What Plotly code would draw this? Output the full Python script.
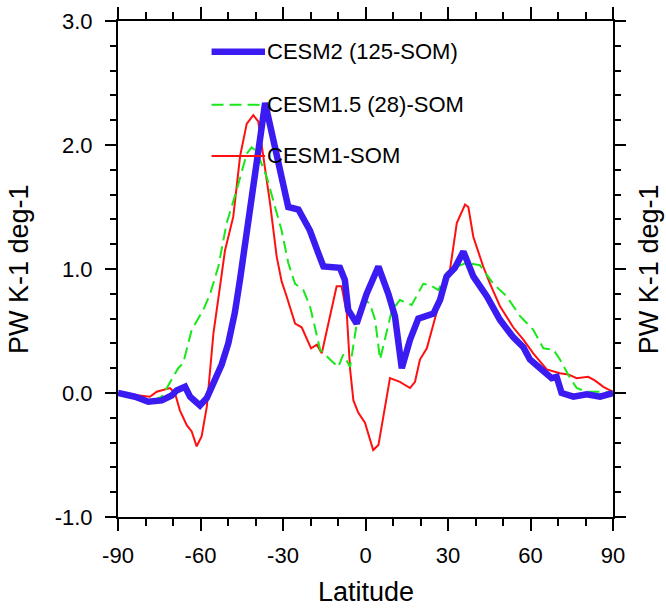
import plotly.graph_objects as go

# ---------------- data ----------------
lat_cesm2 = [-90, -83.8, -79.0, -74.1, -70.5, -68.7, -65.6, -63.8, -60.2, -57.7, -55.3, -52.3,
             -49.9, -47.5, -45.6, -43.8, -40.8, -38.4, -36.5, -32.3, -28.1, -24.4, -20.2,
             -17.2, -15.3, -9.3, -7.5, -6.3, -3.2, 0.4, 4.7, 8.3, 10.7, 13.2, 16.2, 19.2,
             24.7, 27.1, 29.5, 32.5, 35.6, 39.2, 44.1, 48.9, 53.7, 57.4, 59.8, 63.5, 67.7,
             69.5, 71.3, 75.6, 80.4, 85.3, 90]
val_cesm2 = [0.0, -0.03, -0.07, -0.06, -0.02, 0.02, 0.05, -0.03, -0.10, -0.04, 0.08, 0.23,
             0.40, 0.65, 0.92, 1.18, 1.64, 2.04, 2.34, 1.91, 1.50, 1.48, 1.31,
             1.13, 1.02, 1.01, 0.91, 0.67, 0.56, 0.80, 1.02, 0.80, 0.62, 0.20, 0.43, 0.60,
             0.64, 0.75, 0.94, 1.01, 1.14, 0.94, 0.78, 0.59, 0.45, 0.37, 0.27, 0.20, 0.12,
             0.13, 0.0, -0.03, -0.01, -0.03, 0.0]

lat_cesm15 = [-90, -78.4, -74.1, -71.1, -68.1, -66.3, -63.2, -59.0, -56.5, -53.5, -50.5, -46.8,
              -43.2, -41.4, -39.6, -35.9, -32.9, -30.5, -28.1, -25.6, -22.6, -20.2, -18.4,
              -16.5, -12.9, -9.9, -8.1, -5.6, -3.2, -0.8, 1.6, 3.5, 5.3, 7.1, 9.5, 12.5,
              16.8, 21.0, 23.5, 26.5, 29.5, 33.2, 36.8, 41.6, 46.5, 51.3, 56.2, 61.0, 64.7,
              68.3, 70.7, 74.4, 76.8, 80.4, 86.5, 90]
val_cesm15 = [0.0, -0.07, -0.03, 0.08, 0.20, 0.24, 0.51, 0.67, 0.80, 1.02, 1.37, 1.64,
              1.93, 1.98, 1.95, 1.74, 1.50, 1.31, 1.05, 0.88, 0.83, 0.70, 0.53,
              0.35, 0.27, 0.21, 0.31, 0.21, 0.56, 0.76, 0.72, 0.59, 0.27, 0.43, 0.66, 0.75,
              0.71, 0.88, 0.87, 0.83, 0.97, 1.02, 1.05, 1.03, 0.88, 0.78, 0.62, 0.51, 0.36,
              0.35, 0.27, 0.12, 0.04, 0.01, 0.01, 0.0]

lat_cesm1 = [-90, -78.4, -75.9, -71.1, -69.3, -67.5, -65.0, -63.2, -61.4, -59.6, -57.7, -55.3,
             -52.9, -51.1, -48.1, -45.6, -43.2, -40.8, -39.0, -37.2, -34.7, -32.3, -30.5,
             -28.7, -25.6, -23.2, -19.8, -17.7, -15.9, -10.5, -8.7, -6.8, -5.6, -4.4, -2.6,
             -0.2, 1.6, 2.8, 4.7, 8.9, 12.5, 16.2, 18.0, 19.8, 22.3, 24.7, 27.1, 30.7, 33.2,
             36.2, 37.4, 39.2, 42.8, 45.3, 48.9, 53.7, 57.4, 61.0, 65.9, 70.7, 73.7, 76.8,
             81.0, 83.5, 86.5, 90]
val_cesm1 = [0.0, -0.03, 0.01, 0.04, 0.0, -0.14, -0.26, -0.31, -0.43, -0.35, -0.11, 0.48,
             0.86, 1.15, 1.42, 1.91, 2.17, 2.24, 2.19, 1.91, 1.53, 1.10, 0.90,
             0.78, 0.56, 0.53, 0.36, 0.39, 0.32, 0.86, 0.86, 0.64, 0.19, -0.06, -0.16,
             -0.24, -0.38, -0.46, -0.42, 0.12, 0.09, 0.04, 0.09, 0.27, 0.36, 0.56, 0.75, 0.99, 1.37,
             1.52, 1.50, 1.26, 1.02, 0.88, 0.70, 0.53, 0.43, 0.32, 0.19, 0.16, 0.15, 0.12,
             0.13, 0.10, 0.05, 0.01]

series_names = ["CESM2 (125-SOM)", "CESM1.5 (28)-SOM", "CESM1-SOM"]
x_ticks = [-90, -60, -30, 0, 30, 60, 90]
y_ticks = [-1.0, 0.0, 1.0, 2.0, 3.0]
x_title = "Latitude"
y_title = "PW K-1 deg-1"

# ---------------- styles ----------------
C_BLUE = "#3a1cf2"
C_GREEN = "#18e818"
C_RED = "#ff1010"
GREEN_DASH = "12px,6px"
FONT = "Liberation Sans, Arial, Helvetica, sans-serif"
TICK_SIZE = 22
TITLE_SIZE = 27
LEG_SIZE = 22

fig = go.Figure()
fig.add_trace(go.Scatter(x=lat_cesm1, y=val_cesm1, mode="lines", name=series_names[2],
                         line=dict(color=C_RED, width=2)))
fig.add_trace(go.Scatter(x=lat_cesm15, y=val_cesm15, mode="lines", name=series_names[1],
                         line=dict(color=C_GREEN, width=2, dash=GREEN_DASH)))
fig.add_trace(go.Scatter(x=lat_cesm2, y=val_cesm2, mode="lines", name=series_names[0],
                         line=dict(color=C_BLUE, width=6.5)))

# manual NCL-style legend inside the plot
leg_x0, leg_x1, leg_tx = 0.189, 0.297, 0.296
leg_y = [0.938, 0.831, 0.728]
leg_styles = [dict(color=C_BLUE, width=6.5), dict(color=C_GREEN, width=2, dash=GREEN_DASH),
              dict(color=C_RED, width=2)]
for name, yy, st in zip(series_names, leg_y, leg_styles):
    fig.add_shape(type="line", xref="paper", yref="paper", x0=leg_x0, x1=leg_x1, y0=yy, y1=yy,
                  line=st)
    fig.add_annotation(xref="paper", yref="paper", x=leg_tx, y=yy, text=name, showarrow=False,
                       xanchor="left", yanchor="middle",
                       font=dict(size=LEG_SIZE, color="black", family=FONT))

# axis titles (left, right, bottom)
fig.add_annotation(xref="paper", yref="paper", x=0.5, y=-0.152, text=x_title, showarrow=False,
                   xanchor="center", yanchor="middle",
                   font=dict(size=TITLE_SIZE, color="black", family=FONT))
fig.add_annotation(xref="paper", yref="paper", x=-0.200, y=0.5, text=y_title, showarrow=False,
                   textangle=-90, xanchor="center", yanchor="middle",
                   font=dict(size=TITLE_SIZE, color="black", family=FONT))
fig.add_annotation(xref="paper", yref="paper", x=1.073, y=0.5, text=y_title, showarrow=False,
                   textangle=-90, xanchor="center", yanchor="middle",
                   font=dict(size=TITLE_SIZE, color="black", family=FONT))

axis_common = dict(showgrid=False, zeroline=False, showline=True, linecolor="black",
                   linewidth=2, mirror="ticks", ticks="outside", tickcolor="black",
                   tickwidth=2, automargin=False,
                   tickfont=dict(size=TICK_SIZE, color="black", family=FONT))

fig.update_layout(
    width=666, height=609, autosize=False,
    margin=dict(l=118, r=53, t=21, b=92),
    plot_bgcolor="white", paper_bgcolor="white",
    showlegend=False,
    font=dict(family=FONT, color="black"),
    xaxis=dict(range=[-90, 90], tickvals=x_ticks, ticktext=[str(v) for v in x_ticks],
               ticklen=12, ticklabelstandoff=6,
               minor=dict(dtick=10, tick0=-90, ticklen=7, ticks="outside", tickcolor="black",
                          tickwidth=2),
               **axis_common),
    yaxis=dict(range=[-1, 3], tickvals=y_ticks, ticktext=["%.1f" % v for v in y_ticks],
               ticklen=11, ticklabelstandoff=8,
               minor=dict(dtick=0.2, tick0=-1, ticklen=6, ticks="outside", tickcolor="black",
                          tickwidth=2),
               **axis_common),
)

fig.write_html("out.html", config={"displayModeBar": False},
               post_script="document.body.style.margin='0px';")
